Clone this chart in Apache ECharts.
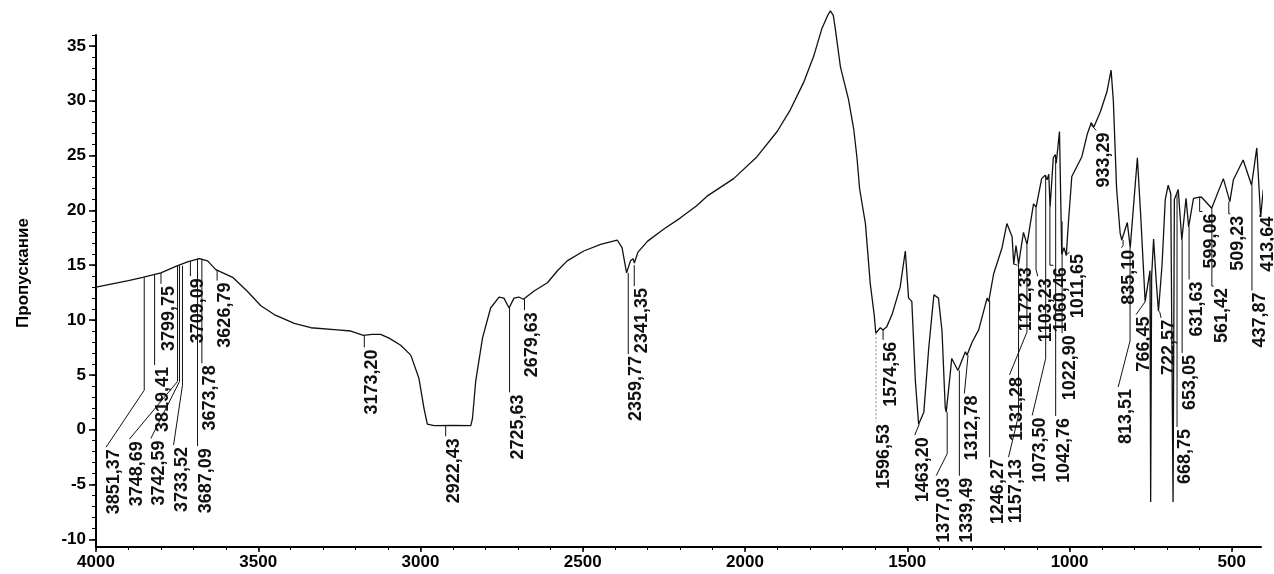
<!DOCTYPE html>
<html>
<head>
<meta charset="utf-8" />
<title>ИК-спектр</title>
<script src="https://cdn.jsdelivr.net/npm/echarts@6/dist/echarts.min.js"></script>
<style>html,body{margin:0;background:#fff}</style>
</head>
<body>
<div id="chart" style="width:1274px;height:574px"></div>
<script>
// спектр: волновое число (см-1) и пропускание
var waveNumbers = [4000,3950,3900,3856,3800,3754,3718,3682,3656,3631,3579,3533,3492,3451,3389,3338,3256,3215,3176,3150,3123,3097,3061,3030,3005,2989,2979,2958,2900,2845,2840,2830,2809,2784,2758,2743,2727,2712,2697,2683,2650,2609,2578,2548,2497,2445,2394,2379,2365,2353,2345,2341,2330,2300,2250,2200,2150,2117,2035,1963,1901,1860,1819,1788,1763,1745,1737,1728,1722,1706,1681,1665,1655,1647,1629,1614,1602,1597,1583,1575,1563,1547,1522,1506,1496,1486,1475,1465,1449,1434,1418,1404,1393,1383,1380,1368,1363,1344,1321,1316,1300,1280,1254,1249,1234,1208,1193,1177,1172,1165,1157,1142,1131,1111,1103,1086,1075,1069,1064,1060,1050,1044,1041,1031,1024,1017,1010,1003,993,962,945,933,925,905,885,872,865,855,844,839,822,813,791,781,767,752,750,747,741,733,726,715,705,696,688,681,677,665,654,641,633,618,603,593,562,526,506,495,465,439,423,411,403];
var transmission = [13.0,13.3,13.6,13.9,14.3,14.9,15.3,15.6,15.4,14.6,13.9,12.6,11.3,10.5,9.7,9.3,9.1,9.0,8.6,8.7,8.7,8.35,7.7,6.8,4.7,1.9,0.5,0.37,0.4,0.37,1.0,4.4,8.35,11.1,12.1,12.0,11.1,12.0,12.1,11.9,12.65,13.4,14.5,15.4,16.3,16.9,17.3,16.6,14.3,15.4,15.6,15.2,16.2,17.2,18.3,19.3,20.4,21.3,22.9,24.9,27.2,29.2,31.7,34.1,36.6,37.8,38.2,37.8,36.6,33.1,30.1,27.4,24.8,22.0,18.8,13.3,10.5,8.8,9.3,9.1,9.4,10.5,13.0,16.3,12.0,11.7,4.4,0.5,1.6,7.4,12.3,12.0,9.0,2.0,1.6,5.0,6.5,5.4,7.1,6.8,8.0,9.1,12.0,11.7,14.2,16.6,18.8,17.6,15.1,16.8,15.1,18.0,16.9,20.6,20.3,22.9,23.2,22.8,23.3,20.3,24.8,25.1,24.3,27.2,16.0,16.6,15.9,19.1,23.1,24.9,27.0,28.0,27.6,29.0,30.8,32.8,30.0,22.0,17.9,17.3,18.9,16.6,24.8,19.7,11.7,14.5,-6.6,14.0,17.4,13.6,10.8,15.0,21.0,22.3,21.5,-6.6,21.0,21.9,17.3,21.1,18.5,21.1,21.2,21.2,20.2,22.9,20.8,22.8,24.6,22.3,25.7,19.4,21.9];

// подписи пиков: начало выноски на кривой, излом, конец выноски (место подписи)
var peakLabels = [3851.37,3819.41,3799.75,3748.69,3742.59,3733.52,3709.09,3687.09,3673.78,3626.79,3173.20,2922.43,2725.63,2679.63,2359.77,2341.35,1596.53,1574.56,1463.20,1377.03,1339.49,1312.78,1246.27,1172.33,1157.13,1131.28,1103.23,1073.50,1060.46,1042.76,1022.90,1011.65,933.29,835.10,813.51,766.45,722.57,668.75,653.05,631.63,599.06,561.42,509.23,437.87,413.64];
var leaderFrom = [13.9,14.2,14.3,14.95,14.95,14.95,15.35,15.6,15.6,14.6,8.6,0.37,11.1,11.9,14.3,15.0,8.8,9.1,0.5,1.6,5.4,6.8,11.8,15.1,15.1,16.9,20.3,23.2,20.3,24.6,19.0,15.9,28.0,17.3,16.6,11.7,10.8,21.5,17.3,18.5,21.2,20.2,20.8,22.3,19.4];
var leaderBend = [3.6,5.9,13.3,4.4,4.4,4.05,14.0,-1.5,6.05,13.6,7.5,-0.6,3.4,10.9,6.9,13.1,0.7,8.2,0.5,-2.2,-4.2,6.8,-2.5,15.1,1.3,8.9,14.6,6.5,15.0,1.25,8.8,15.9,27.8,16.8,8.1,11.7,10.8,0.25,7.0,13.7,19.9,13.1,19.7,12.7,19.6];
var labelAtX = [3969,3819.41,3799.75,3897,3831,3761,3709.09,3687.09,3673.78,3626.79,3173.20,2922.43,2725.63,2679.63,2359.77,2341.35,1596.53,1574.56,1477,1411,1339.49,1324,1246.27,1160,1188,1185,1098,1115,1050,1042.76,1022.90,1000,918,840,850,795,718,668.75,653.05,631.63,590,556,505,437.87,413.64];
var labelAtY = [-1.6,5.9,13.3,-0.86,-0.8,-1.4,14.0,-1.5,6.05,13.6,7.5,-0.6,3.4,10.9,6.9,13.1,0.7,8.2,-0.5,-4.2,-4.2,3.3,-2.5,15.0,-2.5,5.0,14.0,1.3,15.0,1.25,8.8,16.2,27.3,16.6,3.9,10.5,10.2,0.25,7.0,13.7,19.9,13.1,19.7,12.7,19.6];

var xMajor = [500,1000,1500,2000,2500,3000,3500,4000];
var xMinor = [];
for (var v = 500; v <= 4000; v += 100) xMinor.push(v);
var yMajor = [-10,-5,0,5,10,15,20,25,30,35];
var yMinor = [];
for (var w = -10; w <= 36; w++) yMinor.push(w);

var spectrum = waveNumbers.map(function (x, i) { return [x, transmission[i]]; });
var peakData = peakLabels.map(function (x, i) {
  return [x, leaderFrom[i], leaderBend[i], labelAtX[i], labelAtY[i]];
});

var fontFamily = '"Liberation Sans", Arial, sans-serif';
var labelFont = 'bold 18px ' + fontFamily;

function renderPeak(params, api) {
  var p0 = api.coord([api.value(0), api.value(1)]);
  var p1 = api.coord([api.value(0), api.value(2)]);
  var p2 = api.coord([api.value(3), api.value(4)]);
  var txt = api.value(0).toFixed(2).replace('.', ',');
  // 1596,53 в оригинале отмечена бледной пунктирной выноской
  var faint = txt === '1596,53';
  return {
    type: 'group',
    children: [
      {
        type: 'polyline',
        shape: { points: [p0, p1, p2] },
        style: { stroke: faint ? '#888' : '#111', lineWidth: 1, lineDash: faint ? [2, 2] : null, fill: null }
      },
      {
        type: 'text',
        x: p2[0] - 1,
        y: p2[1] + 2,
        rotation: Math.PI / 2,
        style: {
          text: txt,
          align: 'right',
          verticalAlign: 'top',
          font: labelFont,
          fill: '#111'
        }
      }
    ]
  };
}

var axisFont = { color: '#000', fontSize: 17, fontWeight: 'bold', fontFamily: fontFamily };

var option = {
  animation: false,
  backgroundColor: '#fff',
  grid: { left: 96, right: 13, top: 35, bottom: 27 },
  xAxis: [
    {
      type: 'value', min: 410, max: 4000, inverse: true,
      axisLine: { show: true, onZero: false, lineStyle: { color: '#000', width: 2 } },
      axisTick: { show: true, length: 5, customValues: xMajor, lineStyle: { color: '#000', width: 1.5 } },
      axisLabel: { customValues: xMajor, margin: 7, formatter: function (val) { return String(val); }, ...axisFont },
      splitLine: { show: false }
    },
    {
      type: 'value', min: 410, max: 4000, inverse: true, position: 'bottom',
      axisLine: { show: false, onZero: false },
      axisTick: { show: true, length: 3, customValues: xMinor, lineStyle: { color: '#000', width: 1 } },
      axisLabel: { show: false },
      splitLine: { show: false }
    }
  ],
  yAxis: [
    {
      type: 'value', min: -10.7, max: 36,
      name: 'Пропускание', nameLocation: 'middle', nameGap: 64, nameRotate: 90,
      nameTextStyle: { color: '#000', fontSize: 17, fontWeight: 'bold', fontFamily: fontFamily, padding: [0, 0, 0, 36] },
      axisLine: { show: true, onZero: false, lineStyle: { color: '#000', width: 2 } },
      axisTick: { show: true, length: 7, customValues: yMajor, lineStyle: { color: '#000', width: 1.5 } },
      axisLabel: { customValues: yMajor, margin: 10, ...axisFont },
      splitLine: { show: false }
    },
    {
      type: 'value', min: -10.7, max: 36, position: 'left',
      axisLine: { show: false, onZero: false },
      axisTick: { show: true, length: 4, customValues: yMinor, lineStyle: { color: '#000', width: 1 } },
      axisLabel: { show: false },
      splitLine: { show: false }
    }
  ],
  series: [
    {
      type: 'line',
      data: spectrum,
      showSymbol: false,
      clip: false,
      lineStyle: { color: '#111', width: 1.3 },
      z: 3
    },
    {
      type: 'custom',
      renderItem: renderPeak,
      data: peakData,
      clip: false,
      encode: { x: [0, 3], y: [1, 2, 4] },
      z: 4
    }
  ]
};

var chart = echarts.init(document.getElementById('chart'));
chart.setOption(option);
</script>
</body>
</html>
